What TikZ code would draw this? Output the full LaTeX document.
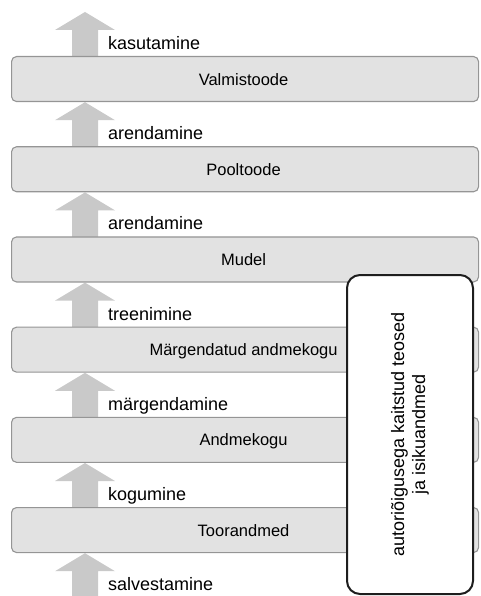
\documentclass[tikz,border=0pt]{standalone}
\usepackage{fontspec}
\setmainfont{Liberation Sans}
\definecolor{arrowc}{HTML}{C9C9C9}
\definecolor{barfill}{HTML}{E2E2E2}
\definecolor{bardraw}{HTML}{959595}
\definecolor{notedraw}{HTML}{1E1E1E}
\tikzset{
  barbox/.style={draw=bardraw, fill=barfill, line width=1.1pt, rounded corners=5pt,
    minimum width=467pt, minimum height=45pt, inner sep=0pt, anchor=north west,
    font=\fontsize{16.5}{19}\selectfont, text height=12pt, text depth=0pt},
  steplabel/.style={anchor=base west, inner sep=0pt, font=\fontsize{18}{21}\selectfont},
  blockarrow/.style={fill=arrowc},
  notebox/.style={draw=notedraw, fill=white, line width=2pt, rounded corners=13pt,
    minimum width=126pt, minimum height=319pt, inner sep=0pt},
  notetext/.style={rotate=90, align=center, inner sep=0pt, font=\fontsize{18}{21}\selectfont}
}
\begin{document}
\begin{tikzpicture}[x=1pt,y=-1pt]
\useasboundingbox (0,0) rectangle (480,596);
\clip (0,0) rectangle (480,596);
\foreach \i/\lab in {0/kasutamine,1/arendamine,2/arendamine,3/treenimine,4/märgendamine,5/kogumine,6/salvestamine}{
  \pgfmathsetmacro{\t}{56+90.2*\i}
  \coordinate (tip\i) at (85,{\t-44});
  \fill[blockarrow] (tip\i) -- (115,{\t-26}) -- (98,{\t-26}) -- (98,{\t+3}) -- (72,{\t+3}) -- (72,{\t-26}) -- (55,{\t-26}) -- cycle;
  \node[steplabel] (l\i) at (108,{\t-6.5}) {\lab};
}
\foreach \i/\txt in {0/Valmistoode,1/Pooltoode,2/Mudel,3/Märgendatud andmekogu,4/Andmekogu,5/Toorandmed}{
  \pgfmathsetmacro{\t}{56+90.2*\i}
  \node[barbox] (b\i) at (11,\t) {\hspace*{-3pt}\txt};
}
\node[notebox] (note) at (410,434.5) {};
\node[notetext] (notet) at (note.center) {autoriõigusega kaitstud teosed\\ja isikuandmed};
\end{tikzpicture}
\end{document}
